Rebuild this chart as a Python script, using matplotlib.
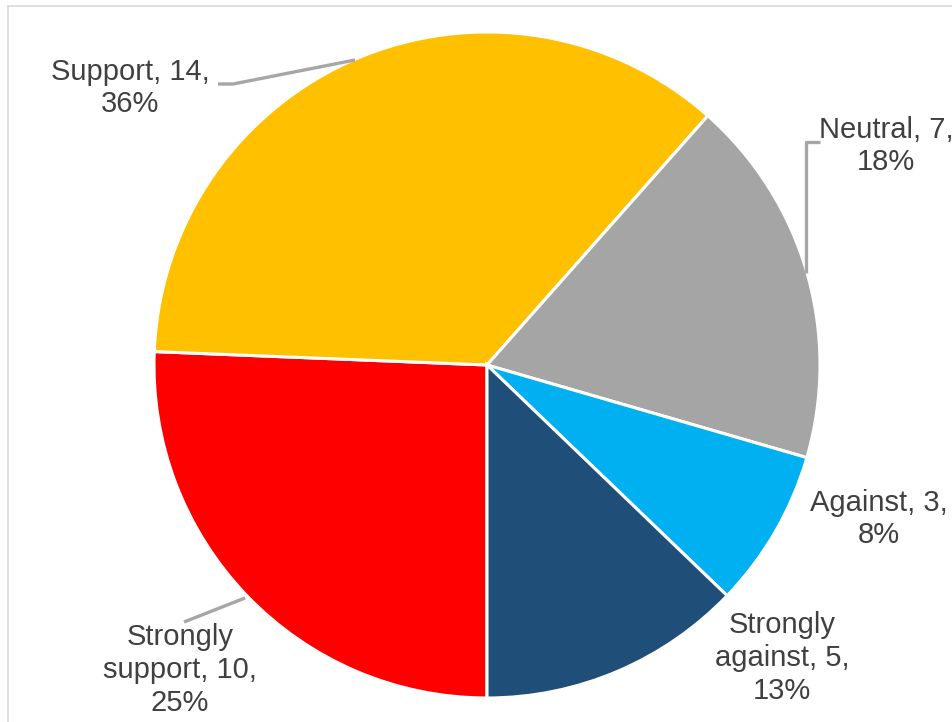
import matplotlib.pyplot as plt

# data, in drawing order (clockwise from the bottom)
labels = ['Strongly\nsupport', 'Support', 'Neutral', 'Against', 'Strongly\nagainst']
counts = [10, 14, 7, 3, 5]
pcts = [25, 36, 18, 8, 13]  # as printed on the chart
colors = ['#FF0000', '#FFC000', '#A5A5A5', '#00B0F0', '#1F4E79']

W, H = 953, 722
fig = plt.figure(figsize=(W / 100, H / 100), dpi=100)
ax = fig.add_axes([0, 0, 1, 1])

cx, cy, r = 487, H - 365, 333
ax.pie(counts, colors=colors, startangle=270, counterclock=False,
       center=(cx, cy), radius=r, frame=True,
       wedgeprops=dict(edgecolor='white', linewidth=2.2))
ax.set_xlim(0, W)
ax.set_ylim(0, H)
ax.set_aspect('auto')
ax.axis('off')

# label positions in pixels (x, y from top)
pos = [(180, 670), (130, 88), (886, 146), (879, 519), (782, 658)]
for name, c, p, (px, py) in zip(labels, counts, pcts, pos):
    ax.text(px, H - py, f'{name}, {c},\n{p}%', ha='center', va='center',
            multialignment='center', fontsize=21, family='Liberation Sans',
            color='#404040', linespacing=1.22)

# leader lines
lc = '#A6A6A6'
ax.plot([218, 233, 355], [H - 84, H - 84, H - 60], color=lc, lw=2.4, solid_capstyle='butt')
ax.plot([820, 806, 806], [H - 142, H - 142, H - 273], color=lc, lw=2.4, solid_capstyle='butt')
ax.plot([184, 245], [H - 622, H - 598], color=lc, lw=2.4, solid_capstyle='butt')

# chart frame
ax.plot([8, W], [H - 6, H - 6], color='#D9D9D9', lw=1.2)
ax.plot([8, 8], [H - 6, 0], color='#D9D9D9', lw=1.2)

fig.savefig('out.png', dpi=100)
